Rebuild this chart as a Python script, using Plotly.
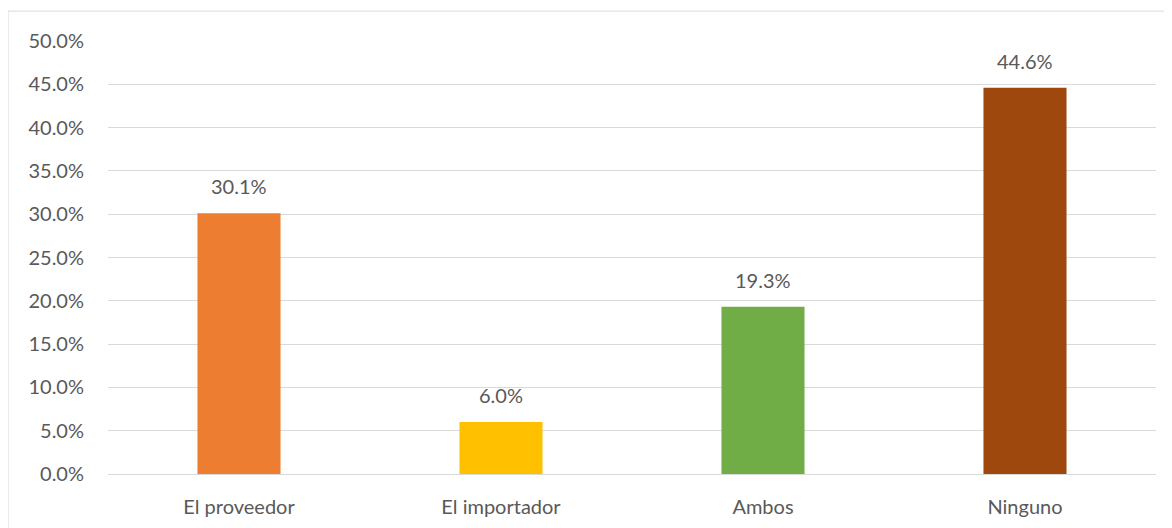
import plotly.graph_objects as go

categories = ["El proveedor", "El importador", "Ambos", "Ninguno"]
values = [30.1, 6.0, 19.3, 44.6]
colors = ["#ED7D31", "#FFC000", "#70AD47", "#9E480E"]
y_ticks = [0, 5, 10, 15, 20, 25, 30, 35, 40, 45, 50]
y_tick_labels = [f"{v:.1f}%" for v in y_ticks]

FONT = "Lato"
TXT = "#595959"

fig = go.Figure()
fig.add_trace(go.Bar(
    x=categories, y=values, marker=dict(color=colors, line=dict(width=0)),
    width=0.317, hoverinfo="skip",
))
for c, v in zip(categories, values):
    fig.add_annotation(x=c, y=v, text=f"{v:.1f}%", showarrow=False,
                       yanchor="bottom", yshift=13,
                       font=dict(family=FONT, size=20, color=TXT))

fig.update_layout(
    width=1164, height=520,
    margin=dict(l=100, r=16, t=33, b=54),
    paper_bgcolor="white", plot_bgcolor="white",
    showlegend=False,
    font=dict(family=FONT, size=20, color=TXT),
    xaxis=dict(showgrid=False, showline=False, zeroline=False, automargin=False,
               ticks="outside", ticklen=15, tickcolor="rgba(0,0,0,0)",
               tickfont=dict(family=FONT, size=20, color=TXT)),
    yaxis=dict(range=[0, 50], tickvals=y_ticks, ticktext=y_tick_labels,
               automargin=False,
               showgrid=True, gridcolor="#D9D9D9", gridwidth=1,
               zeroline=True, zerolinecolor="#D9D9D9", zerolinewidth=1,
               showline=False, ticks="outside", ticklen=19,
               tickcolor="rgba(0,0,0,0)",
               tickfont=dict(family=FONT, size=20, color=TXT)),
    shapes=[dict(type="rect", xref="paper", yref="paper",
                 x0=-0.0954, x1=1.03, y0=-0.3, y1=1.069,
                 line=dict(color="#D9D9D9", width=1), layer="below")],
)
fig.write_html("out.html")
